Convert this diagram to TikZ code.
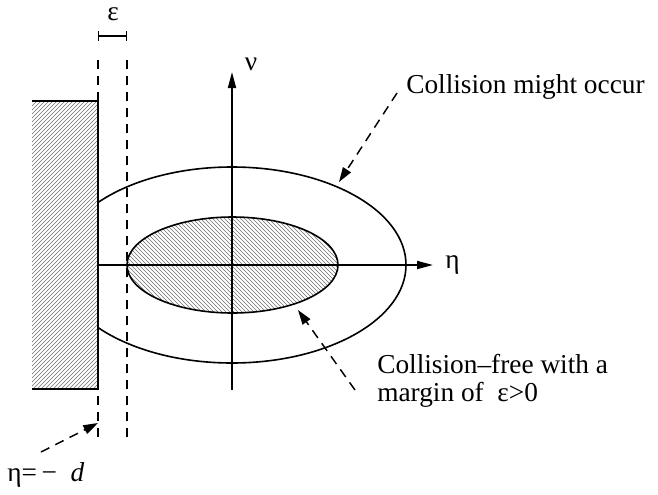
\documentclass[tikz,border=0pt]{standalone}
\usepackage{fontspec}
\setmainfont{Liberation Serif}
\usetikzlibrary{arrows.meta,patterns}
\definecolor{Ink}{HTML}{000000}
\definecolor{HatchGray}{HTML}{707070}

\begin{document}
\begin{tikzpicture}[x=0.75pt,y=-0.75pt,
  every node/.style={font=\fontsize{20.5}{21}\selectfont,text=Ink,inner sep=0pt},
  axis/.style={draw=Ink,line width=1.3pt,-{Triangle[length=12pt,width=6pt]}},
  rim/.style={draw=Ink,line width=1.2pt},
  guide/.style={draw=Ink,line width=1.1pt,dash pattern=on 7pt off 5pt},
  pointer/.style={draw=Ink,line width=1.1pt,dash pattern=on 7pt off 5pt,
    -{Triangle[length=11pt,width=7pt]}}]
  \useasboundingbox (0,0) rectangle (658,494);

  % wall
  \fill[pattern=north east lines,pattern color=HatchGray] (32,101) rectangle (98,389);
  \draw[rim] (32,101) -- (98,101) -- (98,389) -- (32,389);

  % margin lines
  \coordinate (wallTop) at (98,60);
  \coordinate (wallBot) at (98,437);
  \coordinate (marginTop) at (127,60);
  \coordinate (marginBot) at (127,437);
  \draw[guide] (wallTop) -- (wallBot);
  \draw[guide] (marginTop) -- (marginBot);

  % epsilon marker
  \coordinate (epsL) at (98,36);
  \coordinate (epsR) at (127,36);
  \draw[draw=Ink,line width=1.1pt,{Bar[width=7pt]}-{Bar[width=7pt]}] (epsL) -- (epsR);
  \node[anchor=base] (eps) at (113,20) {ε};

  % ellipses
  \fill[pattern=north west lines,pattern color=HatchGray] (232.5,265) ellipse [x radius=105.5,y radius=48];
  \draw[rim] (232.5,265) ellipse [x radius=105.5,y radius=48];
  \begin{scope}
    \clip (98,0) rectangle (658,494);
    \draw[rim] (232,265) ellipse [x radius=174,y radius=98];
  \end{scope}

  % axes
  \coordinate (etaStart) at (98,265);
  \coordinate (etaEnd) at (433,265);
  \coordinate (nuStart) at (232,390);
  \coordinate (nuEnd) at (232,72);
  \draw[axis] (etaStart) -- (etaEnd);
  \draw[axis] (nuStart) -- (nuEnd);
  \node[anchor=base west] (eta) at (445,268) {η};
  \node[anchor=base] (nu) at (251,70) {ν};

  % labels
  \node[anchor=base west] (might) at (406,93) {Collision might occur};
  \coordinate (mightTail) at (397,93);
  \coordinate (mightTip) at (339,182);
  \draw[pointer] (mightTail) -- (mightTip);

  \node[anchor=base west,align=left] (free) at (377,401)
    {Collision–free with a\\margin of~ ε>0};
  \coordinate (freeTail) at (355,390);
  \coordinate (freeTip) at (298,310);
  \draw[pointer] (freeTail) -- (freeTip);

  \node[anchor=base west] (dist) at (7,481) {η=\,−\ \ \textit{d}};
  \coordinate (distTail) at (41,452);
  \coordinate (distTip) at (98,423);
  \draw[pointer] (distTail) -- (distTip);
\end{tikzpicture}
\end{document}
